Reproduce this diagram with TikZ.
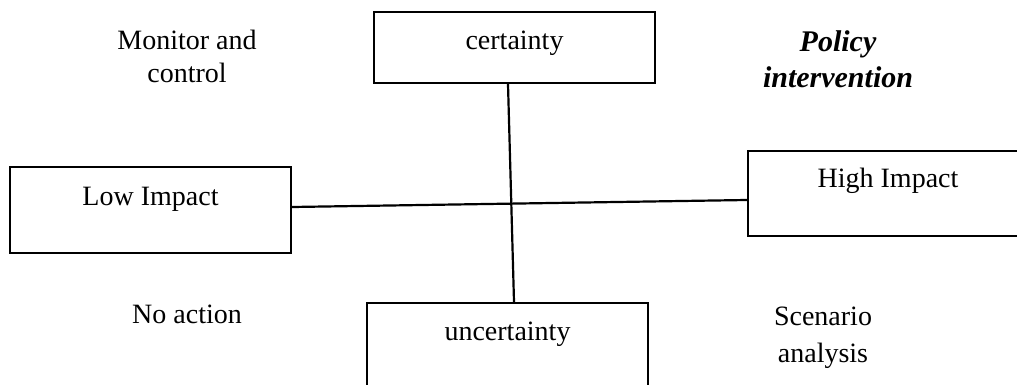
\documentclass[tikz,border=0pt]{standalone}
\usepackage{fontspec}
\setmainfont{Liberation Serif}
\tikzset{
  box/.style={draw=black, line width=2.4pt, fill=white, inner sep=0pt, minimum width=281pt},
  lbl/.style={font=\fontsize{28}{33}\selectfont, inner sep=0pt, anchor=base},
  quad/.style={font=\fontsize{28}{33}\selectfont, inner sep=0pt, align=center, anchor=base},
  axis/.style={draw=black, line width=2.2pt}
}
\begin{document}
\begin{tikzpicture}[x=1pt,y=-1pt]
\useasboundingbox (0,0) rectangle (1017,385);
% boxes
\node[box, minimum height=71pt] (cert) at (514.5,47.5) {};
\node[box, minimum height=86pt] (low) at (150.5,210) {};
\node[box, minimum height=85pt, minimum width=280pt] (high) at (888,193.5) {};
\node[box, minimum height=85pt] (unc) at (507.5,345.5) {};
% axes
\draw[axis] ([xshift=-6.5pt]cert.south) -- ([xshift=6.5pt]unc.north);
\draw[axis] ([yshift=3pt]low.east) -- ([yshift=-6.5pt]high.west);
% box labels
\node[lbl] (tcert) at (514.5,50) {certainty};
\node[lbl] (tlow) at (150.5,205) {Low Impact};
\node[lbl] (thigh) at (888,187) {High Impact};
\node[lbl] (tunc) at (507.5,340) {uncertainty};
% quadrant labels (anchor=base is the last line's baseline)
\node[quad] (mc) at (187,83) {Monitor and\\control};
\node[quad, font=\fontsize{30}{36}\selectfont\bfseries\itshape] (pi) at (838,88) {Policy\\intervention};
\node[quad] (na) at (187,323) {No action};
\node[quad, font=\fontsize{28}{37}\selectfont] (sa) at (823,362) {Scenario\\analysis};
\end{tikzpicture}
\end{document}
